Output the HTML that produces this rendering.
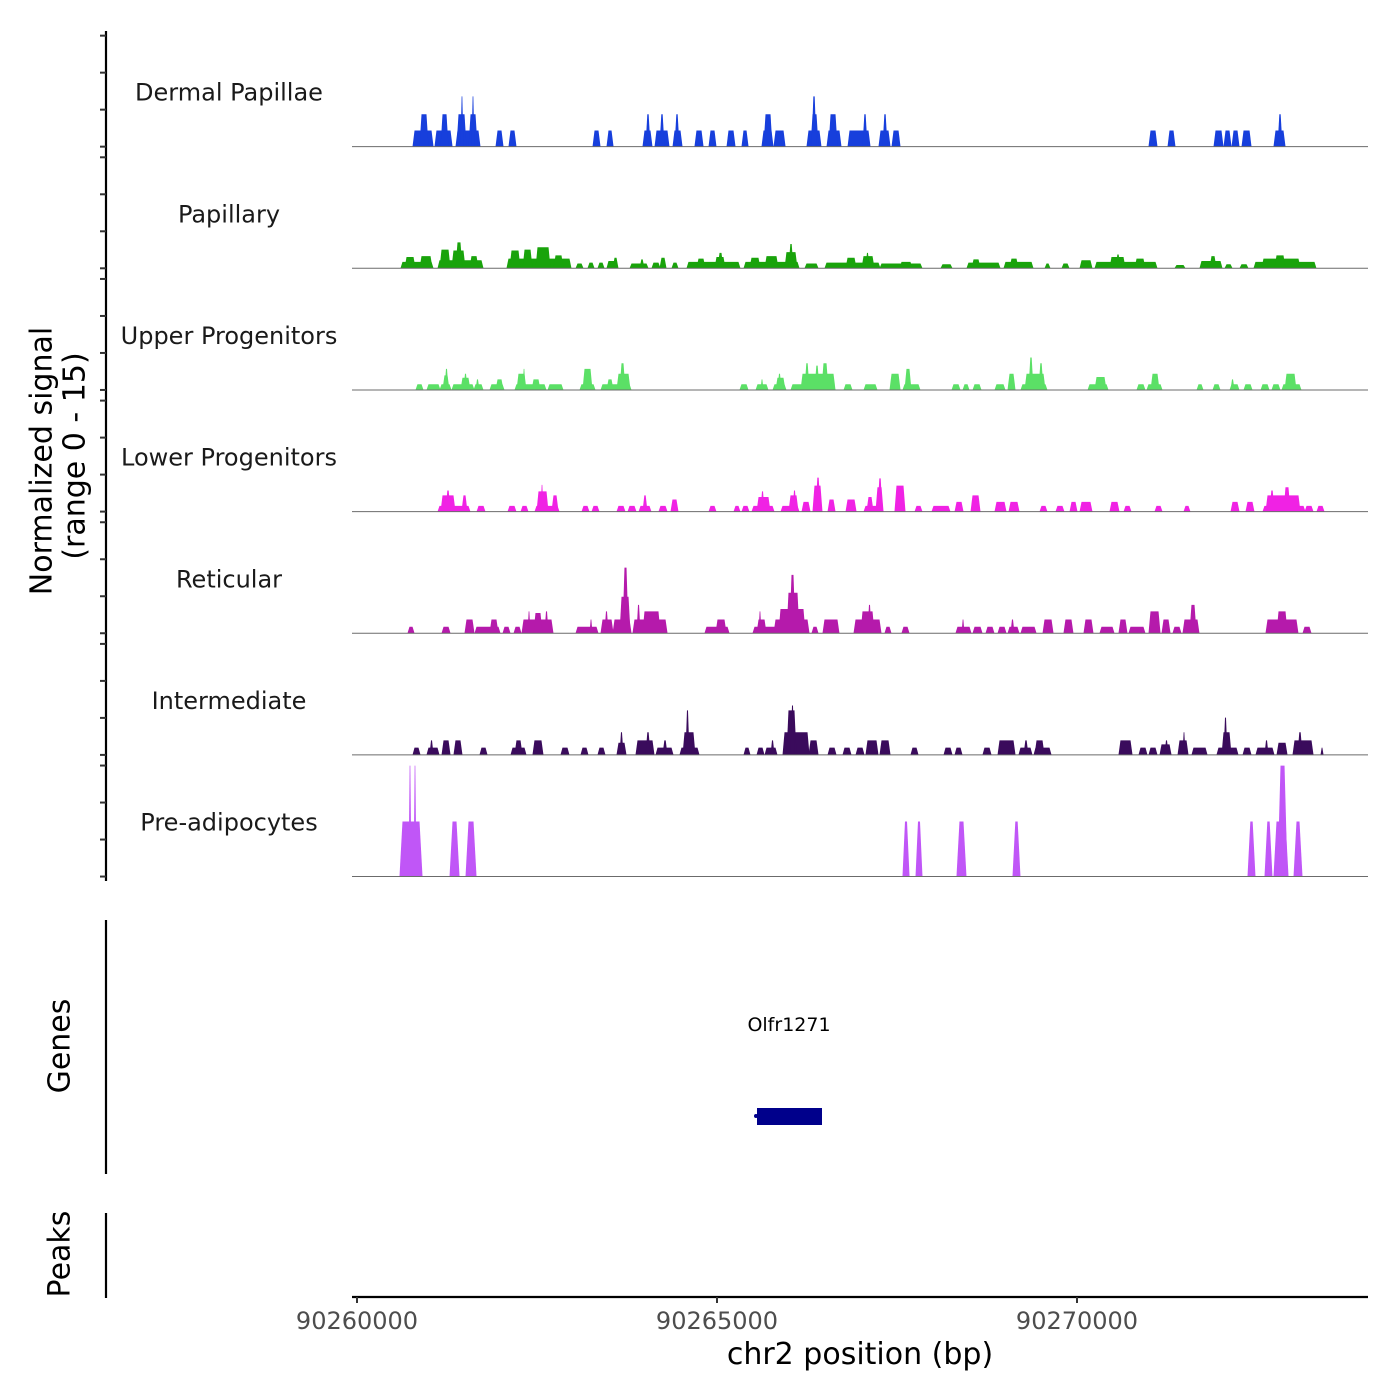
<!DOCTYPE html>
<html><head><meta charset="utf-8"><style>
html,body{margin:0;padding:0;background:#fff;}
svg{display:block;font-family:"DejaVu Sans","Liberation Sans",sans-serif;}
</style></head><body>
<svg id="chart" width="1400" height="1400" viewBox="0 0 1400 1400" xmlns="http://www.w3.org/2000/svg">
<g id="tracks"></g>
<g id="yaxis"></g>
<g>
<text x="42" y="461" font-size="30" text-anchor="middle" dominant-baseline="central" transform="rotate(-90 42 461)" fill="#000">Normalized signal</text>
<text x="75" y="456" font-size="30" text-anchor="middle" dominant-baseline="central" transform="rotate(-90 75 456)" fill="#000">(range 0 - 15)</text>
</g>
<g>
<line x1="106" y1="920" x2="106" y2="1174" stroke="#000" stroke-width="2.2"/>
<text x="60" y="1046" font-size="30" text-anchor="middle" dominant-baseline="central" transform="rotate(-90 60 1046)">Genes</text>
<text x="789" y="1031" font-size="19" text-anchor="middle">Olfr1271</text>
<rect x="757" y="1108" width="65" height="17" fill="#00008b"/>
<circle cx="756" cy="1116" r="2" fill="#00008b"/>
</g>
<g>
<line x1="106" y1="1213" x2="106" y2="1298" stroke="#000" stroke-width="2.2"/>
<text x="60" y="1254" font-size="30" text-anchor="middle" dominant-baseline="central" transform="rotate(-90 60 1254)">Peaks</text>
</g>
<g id="xaxis"></g>
<text x="860" y="1364" font-size="30" text-anchor="middle" fill="#000">chr2 position (bp)</text>
</svg>
<script>
const START = 90260000;
const trackNames = ["Dermal Papillae","Papillary","Upper Progenitors","Lower Progenitors","Reticular","Intermediate","Pre-adipocytes"];
const trackColors = ["#173fdc","#19a30b","#5be066","#f022e4","#b51aab","#3a0b5c","#c056f7"];
const xTicks = [90260000,90265000,90270000];
const yTicks = [0,1,2,3];
// segments: [startOffsetBp, endOffsetBp, signal]
const dermal = [[778,1056,2],[875,986,4],[1083,1320,2],[1167,1264,4],[1375,1708,2],[1389,1514,4],[1444,1472,6.2],[1556,1667,4],[1597,1625,6.2],[1931,2028,2],[2111,2208,2],[3278,3375,2],[3472,3556,2],[3972,4097,2],[4014,4069,4],[4139,4333,2],[4208,4264,4],[4389,4514,2],[4417,4472,4],[4694,4806,2],[4889,4986,2],[5139,5250,2],[5347,5431,2],[5625,5778,2],[5653,5764,4],[5792,5945,2],[6250,6444,2],[6306,6403,4],[6320,6375,6.2],[6528,6722,2],[6556,6667,4],[6820,7125,2],[7028,7083,4],[7250,7403,2],[7306,7361,4],[7431,7542,2],[11000,11111,2],[11264,11361,2],[11903,12028,2],[12042,12139,2],[12153,12250,2],[12292,12417,2],[12736,12889,2],[12792,12847,4]];
const papillary = [[611,1056,0.8],[667,806,1.4],[875,1042,1.5],[1125,1750,1.0],[1153,1292,2.3],[1319,1500,2.2],[1375,1458,3.2],[1569,1681,1.5],[2083,2972,1.2],[2125,2264,2.2],[2306,2431,2.3],[2486,2681,2.6],[2736,2861,1.6],[3042,3139,0.6],[3208,3292,0.7],[3347,3431,0.7],[3472,3597,0.9],[3556,3625,1.3],[3792,4042,0.6],[3931,3986,1.1],[4097,4208,0.7],[4208,4292,1.3],[4375,4458,0.7],[4583,5319,0.8],[4722,4833,1.2],[4972,5111,1.4],[5014,5083,1.9],[5375,6139,0.8],[5458,5597,1.3],[5667,5847,1.5],[5944,6111,2.0],[6000,6056,3.0],[6222,6403,0.6],[6500,7264,0.7],[6792,6931,1.3],[7014,7181,1.5],[7069,7111,1.9],[7264,7847,0.6],[7542,7708,0.8],[8111,8264,0.5],[8472,8931,0.7],[8542,8653,1.1],[8986,9389,0.8],[9069,9181,1.2],[9556,9625,0.6],[9792,9889,0.6],[10042,10208,1.0],[10250,11111,0.8],[10458,10667,1.4],[10542,10597,1.7],[10806,10944,1.2],[11361,11500,0.4],[11708,12014,0.9],[11847,11931,1.5],[12056,12153,0.5],[12264,12375,0.5],[12458,13319,0.8],[12569,13097,1.2],[12750,12889,1.6]];
const upper = [[819,917,0.7],[972,1153,0.7],[1153,1306,0.7],[1194,1278,1.8],[1222,1264,2.6],[1319,1625,0.7],[1444,1569,1.5],[1486,1528,2.0],[1625,1750,0.7],[1653,1694,1.3],[1847,2042,0.7],[1931,2028,1.3],[2194,2625,0.7],[2222,2347,2.0],[2306,2333,2.6],[2431,2542,1.3],[2653,2861,0.7],[3097,3306,0.7],[3139,3264,2.6],[3389,3806,0.7],[3472,3556,1.3],[3611,3792,2.0],[3653,3722,3.3],[5319,5431,0.7],[5542,5708,0.7],[5611,5639,1.3],[5778,5958,0.7],[5819,5944,1.5],[5847,5889,2.0],[6028,6639,0.7],[6167,6639,2.0],[6222,6278,3.3],[6361,6417,3.0],[6458,6542,3.3],[6764,6875,0.7],[7042,7222,0.7],[7403,7542,2.0],[7583,7819,0.7],[7611,7694,2.6],[8264,8375,0.7],[8417,8500,0.7],[8556,8667,0.7],[8861,9000,0.7],[9042,9139,2.0],[9222,9583,0.7],[9278,9556,2.0],[9333,9389,4.0],[9472,9528,3.3],[10153,10431,0.7],[10250,10403,1.6],[10833,10944,0.7],[10972,11181,0.7],[11028,11139,2.0],[11667,11750,0.7],[11889,11986,0.7],[12125,12250,0.7],[12139,12181,1.3],[12319,12431,0.7],[12556,12667,0.7],[12708,12819,0.7],[12847,13111,0.7],[12889,13042,2.0]];
const lower = [[1125,1569,0.7],[1167,1361,2.0],[1236,1292,2.6],[1458,1528,2.0],[1667,1778,0.7],[2097,2208,0.7],[2278,2375,0.7],[2472,2806,0.7],[2500,2653,2.5],[2556,2583,3.3],[2708,2792,2.0],[3125,3222,0.7],[3264,3361,0.7],[3611,3722,0.7],[3764,3875,0.7],[3917,4083,0.7],[3972,4028,2.0],[4194,4306,0.7],[4361,4458,1.5],[4889,4986,0.7],[5236,5319,0.7],[5347,5444,0.7],[5486,5792,0.7],[5556,5736,1.8],[5611,5653,2.5],[5889,6139,0.7],[6000,6125,2.0],[6056,6097,2.6],[6181,6292,1.2],[6333,6458,3.2],[6375,6431,4.2],[6542,6639,1.5],[6792,6931,1.5],[7042,7306,0.7],[7083,7167,1.8],[7208,7306,3.0],[7236,7292,4.1],[7472,7611,3.2],[7750,7847,0.7],[7986,8236,0.7],[8306,8417,1.2],[8528,8653,2.0],[8861,9014,1.2],[9056,9194,1.2],[9486,9583,0.7],[9708,9819,0.7],[9903,10000,1.2],[10042,10208,1.2],[10458,10583,1.2],[10653,10750,0.7],[11083,11181,0.7],[11486,11569,0.7],[12139,12250,1.2],[12347,12458,1.2],[12583,13167,0.7],[12625,13097,2.0],[12681,12736,2.6],[12875,12958,3.0],[13167,13278,0.7],[13333,13431,0.7]];
const reticular = [[708,792,0.8],[1181,1292,0.8],[1500,1625,1.7],[1639,1986,0.8],[1847,1958,1.7],[2028,2125,0.8],[2181,2278,0.8],[2292,2722,1.7],[2375,2403,2.7],[2458,2569,2.5],[2611,2653,2.7],[3042,3347,0.8],[3236,3264,1.7],[3389,3556,1.7],[3444,3486,2.7],[3556,3806,1.7],[3653,3792,4.5],[3694,3764,8.1],[3833,4306,1.7],[3889,3931,3.5],[3972,4208,2.7],[4833,5167,0.8],[4986,5125,1.7],[5500,5861,0.8],[5556,5681,1.7],[5583,5611,2.7],[5792,6278,1.7],[5861,6222,3.0],[5972,6139,5.0],[6014,6083,7.2],[6319,6403,0.8],[6472,6694,1.7],[6903,7278,1.7],[7000,7181,2.7],[7097,7139,3.5],[7333,7417,0.8],[7569,7667,0.8],[8319,8528,0.8],[8403,8431,1.7],[8556,8681,0.8],[8736,8847,0.8],[8903,9014,0.8],[9042,9194,0.8],[9083,9125,1.7],[9222,9431,0.8],[9528,9667,1.7],[9819,9944,1.7],[10097,10222,1.7],[10319,10514,0.8],[10583,10694,1.7],[10722,10944,0.8],[11000,11153,2.7],[11181,11292,1.7],[11333,11444,0.8],[11472,11694,1.7],[11569,11653,3.5],[12625,13069,1.7],[12778,12917,2.7],[13139,13250,0.8]];
const intermediate = [[778,875,0.9],[972,1139,0.9],[1014,1056,1.8],[1181,1292,1.8],[1347,1458,1.8],[1708,1806,0.9],[2139,2347,0.9],[2194,2292,1.8],[2444,2583,1.8],[2833,2944,0.9],[3111,3208,0.9],[3347,3444,0.9],[3611,3736,1.5],[3653,3694,2.8],[3875,4125,1.8],[4014,4069,2.8],[4153,4389,0.9],[4250,4306,1.8],[4486,4750,0.9],[4528,4694,2.8],[4569,4611,5.5],[5375,5458,0.9],[5556,5653,0.9],[5667,5833,0.9],[5750,5792,1.8],[5917,6278,2.8],[5972,6097,5.5],[6028,6069,6.1],[6278,6403,1.8],[6542,6653,0.9],[6750,6861,0.9],[6931,7042,0.9],[7069,7236,1.8],[7264,7403,1.8],[7694,7792,0.9],[8153,8264,0.9],[8306,8403,0.9],[8694,8806,0.9],[8903,9139,1.8],[9194,9375,0.9],[9264,9319,1.8],[9403,9639,0.9],[9417,9542,1.8],[10583,10764,1.8],[10861,10972,0.9],[11000,11111,0.9],[11153,11306,1.3],[11222,11264,1.8],[11403,11542,1.8],[11472,11500,2.8],[11597,11806,0.9],[11944,12236,0.9],[12014,12139,2.8],[12042,12083,4.6],[12306,12417,0.9],[12486,12736,0.9],[12611,12653,1.8],[12778,12917,1.5],[13000,13278,1.8],[13069,13125,2.8],[13389,13417,0.9]];
const preadipocytes = [[597,903,6.8],[722,750,13.7],[792,819,13.7],[1292,1417,6.8],[1514,1653,6.8],[7583,7667,6.8],[7764,7847,6.8],[8333,8458,6.8],[9111,9208,6.8],[12375,12472,6.8],[12611,12708,6.8],[12736,12931,6.8],[12792,12917,13.7],[13014,13125,6.8]];
const trackData = [dermal,papillary,upper,lower,reticular,intermediate,preadipocytes];

const NS = "http://www.w3.org/2000/svg";
const X0 = 352, X1 = 1368;
const PX_PER_BP = 0.072;
function xScale(bp){ return 357 + (bp - START) * PX_PER_BP; }
const TOP = 25, TRACK_H = 121.65, UNIT = 8.1;
function baseY(i){ return TOP + (i+1)*TRACK_H; }
function yScale(i, v){ return baseY(i) - v*UNIT; }

const tracks = document.getElementById('tracks');
trackData.forEach((segs, i) => {
  const g = document.createElementNS(NS,'g');
  
  
  tracks.appendChild(g);
  const lbl = document.createElementNS(NS,'text');
  
  
  lbl.setAttribute('x', 229);
  lbl.setAttribute('y', baseY(i) - 46);
  lbl.setAttribute('font-size', '24');
  lbl.setAttribute('text-anchor', 'middle');
  lbl.setAttribute('fill', '#1a1a1a');
  lbl.textContent = trackNames[i];
  g.appendChild(lbl);
  const b = baseY(i);
  segs.forEach(s => {
    const xs = xScale(START + s[0]), xe = xScale(START + s[1]);
    const w = xe - xs;
    const r = Math.min(i === 6 ? 2.5 : 1.5, w/3);
    const yv = Math.max(yScale(i, s[2]), b - TRACK_H + 1);
    const p = document.createElementNS(NS,'polygon');
    
    
    p.setAttribute('points', `${xs-0.5},${b} ${xs+r},${yv} ${xe-r},${yv} ${xe+0.5},${b}`);
    p.setAttribute('fill', trackColors[i]);
    g.appendChild(p);
  });
  const base = document.createElementNS(NS,'line');
  
  
  base.setAttribute('x1', X0); base.setAttribute('x2', X1);
  base.setAttribute('y1', b); base.setAttribute('y2', b);
  base.setAttribute('stroke', '#6b6b6b'); base.setAttribute('stroke-width', '1');
  g.appendChild(base);
});

const yaxis = document.getElementById('yaxis');
const yl = document.createElementNS(NS,'line');


yl.setAttribute('x1', 106); yl.setAttribute('x2', 106);
yl.setAttribute('y1', 31); yl.setAttribute('y2', 881);
yl.setAttribute('stroke', '#000'); yl.setAttribute('stroke-width', '2.2');
yaxis.appendChild(yl);
for (let i = 0; i < trackNames.length; i++) {
  yTicks.forEach(k => {
    const t = document.createElementNS(NS,'line');
    
    
    const y = baseY(i) - k*37;
    t.setAttribute('x1', 100); t.setAttribute('x2', 106);
    t.setAttribute('y1', y); t.setAttribute('y2', y);
    t.setAttribute('stroke', '#333'); t.setAttribute('stroke-width', '2');
    yaxis.appendChild(t);
  });
}

const xaxis = document.getElementById('xaxis');
const xl = document.createElementNS(NS,'line');


xl.setAttribute('x1', X0); xl.setAttribute('x2', X1);
xl.setAttribute('y1', 1297); xl.setAttribute('y2', 1297);
xl.setAttribute('stroke', '#000'); xl.setAttribute('stroke-width', '2.2');
xaxis.appendChild(xl);
xTicks.forEach(v => {
  const x = xScale(v);
  const t = document.createElementNS(NS,'line');
  
  
  t.setAttribute('x1', x); t.setAttribute('x2', x);
  t.setAttribute('y1', 1297); t.setAttribute('y2', 1303);
  t.setAttribute('stroke', '#333'); t.setAttribute('stroke-width', '2');
  xaxis.appendChild(t);
  const lab = document.createElementNS(NS,'text');
  
  
  lab.setAttribute('x', x); lab.setAttribute('y', 1329);
  lab.setAttribute('font-size', '24'); lab.setAttribute('text-anchor', 'middle');
  lab.setAttribute('fill', '#4d4d4d');
  lab.textContent = String(v);
  xaxis.appendChild(lab);
});
</script>
</body></html>
